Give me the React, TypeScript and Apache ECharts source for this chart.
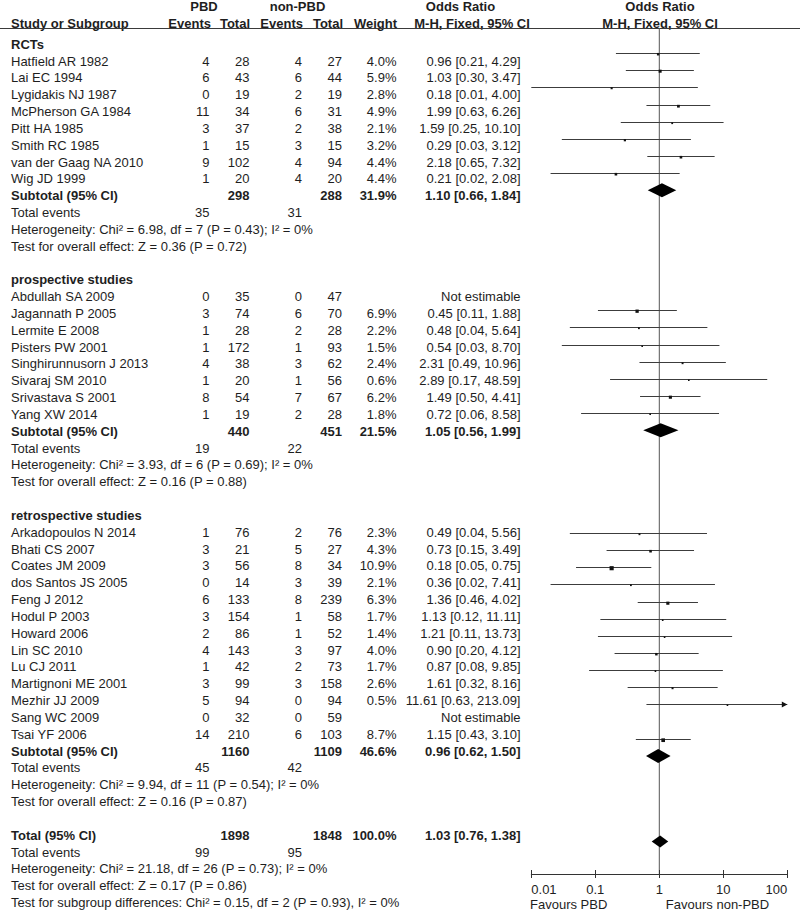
import React, { useEffect, useRef } from "react";
import * as echarts from "echarts";

// ---------- data ----------
const groupLabels = ["RCTs", "prospective studies", "retrospective studies"];

const rctNames = ["Hatfield AR 1982", "Lai EC 1994", "Lygidakis NJ 1987", "McPherson GA 1984", "Pitt HA 1985", "Smith RC 1985", "van der Gaag NA 2010", "Wig JD 1999"];
const rctPbdEvents = [4, 6, 0, 11, 3, 1, 9, 1];
const rctPbdTotal = [28, 43, 19, 34, 37, 15, 102, 20];
const rctNonEvents = [4, 6, 2, 6, 2, 3, 4, 4];
const rctNonTotal = [27, 44, 19, 31, 38, 15, 94, 20];
const rctWeight = [4.0, 5.9, 2.8, 4.9, 2.1, 3.2, 4.4, 4.4];
const rctOR = [0.96, 1.03, 0.18, 1.99, 1.59, 0.29, 2.18, 0.21];
const rctLo = [0.21, 0.30, 0.01, 0.63, 0.25, 0.03, 0.65, 0.02];
const rctHi = [4.29, 3.47, 4.00, 6.26, 10.10, 3.12, 7.32, 2.08];

const proNames = ["Abdullah SA 2009", "Jagannath P 2005", "Lermite E 2008", "Pisters PW 2001", "Singhirunnusorn J 2013", "Sivaraj SM 2010", "Srivastava S 2001", "Yang XW 2014"];
const proPbdEvents = [0, 3, 1, 1, 4, 1, 8, 1];
const proPbdTotal = [35, 74, 28, 172, 38, 20, 54, 19];
const proNonEvents = [0, 6, 2, 1, 3, 1, 7, 2];
const proNonTotal = [47, 70, 28, 93, 62, 56, 67, 28];
const proWeight = [null, 6.9, 2.2, 1.5, 2.4, 0.6, 6.2, 1.8];
const proOR = [null, 0.45, 0.48, 0.54, 2.31, 2.89, 1.49, 0.72];
const proLo = [null, 0.11, 0.04, 0.03, 0.49, 0.17, 0.50, 0.06];
const proHi = [null, 1.88, 5.64, 8.70, 10.96, 48.59, 4.41, 8.58];

const retNames = ["Arkadopoulos N 2014", "Bhati CS 2007", "Coates JM 2009", "dos Santos JS 2005", "Feng J 2012", "Hodul P 2003", "Howard 2006", "Lin SC 2010", "Lu CJ 2011", "Martignoni ME 2001", "Mezhir JJ 2009", "Sang WC 2009", "Tsai YF 2006"];
const retPbdEvents = [1, 3, 3, 0, 6, 3, 2, 4, 1, 3, 5, 0, 14];
const retPbdTotal = [76, 21, 56, 14, 133, 154, 86, 143, 42, 99, 94, 32, 210];
const retNonEvents = [2, 5, 8, 3, 8, 1, 1, 3, 2, 3, 0, 0, 6];
const retNonTotal = [76, 27, 34, 39, 239, 58, 52, 97, 73, 158, 94, 59, 103];
const retWeight = [2.3, 4.3, 10.9, 2.1, 6.3, 1.7, 1.4, 4.0, 1.7, 2.6, 0.5, null, 8.7];
const retOR = [0.49, 0.73, 0.18, 0.36, 1.36, 1.13, 1.21, 0.90, 0.87, 1.61, 11.61, null, 1.15];
const retLo = [0.04, 0.15, 0.05, 0.02, 0.46, 0.12, 0.11, 0.20, 0.08, 0.32, 0.63, null, 0.43];
const retHi = [5.56, 3.49, 0.75, 7.41, 4.02, 11.11, 13.73, 4.12, 9.85, 8.16, 213.09, null, 3.10];

const groupPbdTotal = [298, 440, 1160];
const groupNonTotal = [288, 451, 1109];
const groupWeight = [31.9, 21.5, 46.6];
const groupOR = [1.10, 1.05, 0.96];
const groupLo = [0.66, 0.56, 0.62];
const groupHi = [1.84, 1.99, 1.50];
const groupEventsPbd = [35, 19, 45];
const groupEventsNon = [31, 22, 42];
const groupHeterogeneity = [
  "Heterogeneity: Chi² = 6.98, df = 7 (P = 0.43); I² = 0%",
  "Heterogeneity: Chi² = 3.93, df = 6 (P = 0.69); I² = 0%",
  "Heterogeneity: Chi² = 9.94, df = 11 (P = 0.54); I² = 0%",
];
const groupEffect = [
  "Test for overall effect: Z = 0.36 (P = 0.72)",
  "Test for overall effect: Z = 0.16 (P = 0.88)",
  "Test for overall effect: Z = 0.16 (P = 0.87)",
];

const totalPbd = 1898;
const totalNon = 1848;
const totalWeight = 100.0;
const totalOR = [1.03, 0.76, 1.38];
const totalEvents = [99, 95];
const totalTexts = [
  "Heterogeneity: Chi² = 21.18, df = 26 (P = 0.73); I² = 0%",
  "Test for overall effect: Z = 0.17 (P = 0.86)",
  "Test for subgroup differences: Chi² = 0.15, df = 2 (P = 0.93), I² = 0%",
];

const axisTicks = [0.01, 0.1, 1, 10, 100];
const favourLabels = ["Favours PBD", "Favours non-PBD"];

// ---------- layout ----------
const W = 800;
const H = 919;
const FONT = '"Liberation Sans", Arial, Helvetica, sans-serif';
const FS = 13;
const TXT = "#1e1e1e";
const TEXT_Y0 = 44.2;
const TEXT_DY = 16.83;
const LINE_Y0 = 36;
const LINE_DY = 17.14;
const HEADER_LINE_Y = 28;
const AXIS_Y = 874;
const PLOT_L = 531.3;
const PLOT_R = 787.3;
const XMIN = 0.01;
const XMAX = 100;
const COL = { name: 11, pe: 209.5, pt: 249.5, ne: 302, nt: 342, w: 396.5, or: 520.5 };

const groups = [
  { names: rctNames, pe: rctPbdEvents, pt: rctPbdTotal, ne: rctNonEvents, nt: rctNonTotal, w: rctWeight, or: rctOR, lo: rctLo, hi: rctHi },
  { names: proNames, pe: proPbdEvents, pt: proPbdTotal, ne: proNonEvents, nt: proNonTotal, w: proWeight, or: proOR, lo: proLo, hi: proHi },
  { names: retNames, pe: retPbdEvents, pt: retPbdTotal, ne: retNonEvents, nt: retNonTotal, w: retWeight, or: retOR, lo: retLo, hi: retHi },
];

const fmtCI = (o: number, l: number, h: number) => `${o.toFixed(2)} [${l.toFixed(2)}, ${h.toFixed(2)}]`;

function buildOption() {
  const graphic: any[] = [];
  const plotData: any[] = [];

  const txt = (text: string, x: number, y: number, align: string, bold = false) => {
    graphic.push({
      type: "text",
      x,
      y,
      silent: true,
      style: {
        text,
        fontSize: FS,
        fontFamily: FONT,
        fontWeight: bold ? "bold" : "normal",
        fill: TXT,
        align,
        verticalAlign: "middle",
      },
    });
  };
  const rowY = (r: number) => TEXT_Y0 + TEXT_DY * r;

  // headers
  txt("PBD", 204, 6, "center", true);
  txt("non-PBD", 297.5, 6, "center", true);
  txt("Odds Ratio", 460.5, 6, "center", true);
  txt("Odds Ratio", 660, 6, "center", true);
  txt("Study or Subgroup", COL.name, 23, "left", true);
  txt("Events", 211, 23, "right", true);
  txt("Total", 250, 23, "right", true);
  txt("Events", 303, 23, "right", true);
  txt("Total", 343, 23, "right", true);
  txt("Weight", 397, 23, "right", true);
  txt("M-H, Fixed, 95% CI", 472, 23, "center", true);
  txt("M-H, Fixed, 95% CI", 660, 23, "center", true);
  graphic.push({
    type: "line",
    silent: true,
    shape: { x1: 0, y1: HEADER_LINE_Y + 0.5, x2: W, y2: HEADER_LINE_Y + 0.5 },
    style: { stroke: "#3a3a3a", lineWidth: 1 },
  });

  let r = 0;
  groups.forEach((g, gi) => {
    txt(groupLabels[gi], COL.name, rowY(r), "left", true);
    r++;
    g.names.forEach((n, i) => {
      const y = rowY(r);
      txt(n, COL.name, y, "left");
      txt(String(g.pe[i]), COL.pe, y, "right");
      txt(String(g.pt[i]), COL.pt, y, "right");
      txt(String(g.ne[i]), COL.ne, y, "right");
      txt(String(g.nt[i]), COL.nt, y, "right");
      const w = g.w[i];
      const o = g.or[i];
      if (w != null && o != null) {
        txt(w.toFixed(1) + "%", COL.w, y, "right");
        txt(fmtCI(o, g.lo[i] as number, g.hi[i] as number), COL.or, y, "right");
        plotData.push([r, o, g.lo[i], g.hi[i], w, 0]);
      } else {
        txt("Not estimable", COL.or, y, "right");
      }
      r++;
    });
    let y = rowY(r);
    txt("Subtotal (95% CI)", COL.name, y, "left", true);
    txt(String(groupPbdTotal[gi]), COL.pt, y, "right", true);
    txt(String(groupNonTotal[gi]), COL.nt, y, "right", true);
    txt(groupWeight[gi].toFixed(1) + "%", COL.w, y, "right", true);
    txt(fmtCI(groupOR[gi], groupLo[gi], groupHi[gi]), COL.or, y, "right", true);
    plotData.push([r, groupOR[gi], groupLo[gi], groupHi[gi], groupWeight[gi], 1]);
    r++;
    y = rowY(r);
    txt("Total events", COL.name, y, "left");
    txt(String(groupEventsPbd[gi]), COL.pe, y, "right");
    txt(String(groupEventsNon[gi]), COL.ne, y, "right");
    r++;
    txt(groupHeterogeneity[gi], COL.name, rowY(r), "left");
    r++;
    txt(groupEffect[gi], COL.name, rowY(r), "left");
    r++;
    r++; // blank
  });

  let y = rowY(r);
  txt("Total (95% CI)", COL.name, y, "left", true);
  txt(String(totalPbd), COL.pt, y, "right", true);
  txt(String(totalNon), COL.nt, y, "right", true);
  txt(totalWeight.toFixed(1) + "%", COL.w, y, "right", true);
  txt(fmtCI(totalOR[0], totalOR[1], totalOR[2]), COL.or, y, "right", true);
  plotData.push([r, totalOR[0], totalOR[1], totalOR[2], totalWeight, 2]);
  r++;
  y = rowY(r);
  txt("Total events", COL.name, y, "left");
  txt(String(totalEvents[0]), COL.pe, y, "right");
  txt(String(totalEvents[1]), COL.ne, y, "right");
  r++;
  totalTexts.forEach((t) => {
    txt(t, COL.name, rowY(r), "left");
    r++;
  });

  // favours labels
  txt(favourLabels[0], 530, 904, "left");
  txt(favourLabels[1], 717.5, 904, "center");

  const yMin = (HEADER_LINE_Y - LINE_Y0) / LINE_DY;
  const yMax = (AXIS_Y - LINE_Y0) / LINE_DY;

  const fmtTick = (v: number) => String(parseFloat(Number(v).toPrecision(3)));

  return {
    animation: false,
    backgroundColor: "#ffffff",
    grid: {
      left: PLOT_L,
      right: W - PLOT_R,
      top: HEADER_LINE_Y,
      bottom: H - AXIS_Y,
      containLabel: false,
      outerBoundsMode: "none",
    },
    xAxis: {
      type: "log",
      logBase: 10,
      min: XMIN,
      max: XMAX,
      position: "bottom",
      axisLine: { show: true, onZero: false, lineStyle: { color: "#333", width: 1 } },
      axisTick: { show: false },
      axisLabel: {
        show: true,
        margin: 9,
        fontSize: FS,
        fontFamily: FONT,
        color: TXT,
        formatter: fmtTick,
        alignMinLabel: "left",
        alignMaxLabel: "right",
      },
      splitLine: { show: false },
    },
    yAxis: {
      type: "value",
      inverse: true,
      min: yMin,
      max: yMax,
      show: false,
      splitLine: { show: false },
    },
    series: [
      {
        type: "line",
        silent: true,
        symbol: "none",
        data: [
          [1, yMin],
          [1, yMax],
        ],
        lineStyle: { color: "#555", width: 1 },
        z: 1,
      },
      {
        // tick marks crossing the axis line
        type: "custom",
        silent: true,
        clip: false,
        data: axisTicks.map((v) => [v, yMax]),
        encode: { x: 0, y: 1 },
        z: 2,
        renderItem: (_params: any, api: any) => {
          const p = api.coord([api.value(0), api.value(1)]);
          const x = Math.round(p[0]) + 0.5;
          return {
            type: "line",
            shape: { x1: x, y1: p[1] - 4, x2: x, y2: p[1] + 4 },
            style: { stroke: "#333", lineWidth: 1 },
          };
        },
      },
      {
        type: "custom",
        silent: true,
        clip: false,
        data: plotData,
        encode: { x: 1, y: 0 },
        z: 3,
        renderItem: (_params: any, api: any) => {
          const row = api.value(0);
          const o = api.value(1);
          const lo = api.value(2);
          const hi = api.value(3);
          const w = api.value(4);
          const kind = api.value(5);
          if (kind === 0) {
            const loC = Math.max(lo, XMIN);
            const hiC = Math.min(hi, XMAX);
            const p1 = api.coord([loC, row]);
            const p2 = api.coord([hiC, row]);
            const pc = api.coord([o, row]);
            const yy = Math.round(p1[1]) + 0.5;
            const s = Math.max(1.6, 1.25 * Math.sqrt(w));
            const children: any[] = [
              {
                type: "line",
                shape: { x1: p1[0], y1: yy, x2: p2[0], y2: yy },
                style: { stroke: "#3c3c3c", lineWidth: 1 },
              },
              {
                type: "rect",
                shape: { x: pc[0] - s / 2, y: yy + 0.7 - s / 2, width: s, height: s },
                style: { fill: "#111" },
              },
            ];
            if (lo < XMIN) {
              children.push({
                type: "polygon",
                shape: { points: [[p1[0], yy], [p1[0] + 5.5, yy - 3], [p1[0] + 5.5, yy + 3]] },
                style: { fill: "#111" },
              });
            }
            if (hi > XMAX) {
              children.push({
                type: "polygon",
                shape: { points: [[p2[0], yy], [p2[0] - 5.5, yy - 3], [p2[0] - 5.5, yy + 3]] },
                style: { fill: "#111" },
              });
            }
            return { type: "group", children };
          }
          const pl = api.coord([lo, row]);
          const ph = api.coord([hi, row]);
          const pc = api.coord([o, row]);
          const h = kind === 1 ? 7 : 6;
          return {
            type: "polygon",
            shape: {
              points: [
                [pl[0], pc[1]],
                [pc[0], pc[1] - h],
                [ph[0], pc[1]],
                [pc[0], pc[1] + h],
              ],
            },
            style: { fill: "#000" },
          };
        },
      },
    ],
    graphic,
  };
}

export default function App() {
  const ref = useRef<HTMLDivElement>(null);
  useEffect(() => {
    document.body.style.margin = "0";
    if (!ref.current) return;
    const chart = echarts.init(ref.current, undefined, { renderer: "svg" });
    chart.setOption(buildOption() as any);
    return () => chart.dispose();
  }, []);
  return <div ref={ref} style={{ width: W, height: H, background: "#fff" }} />;
}
